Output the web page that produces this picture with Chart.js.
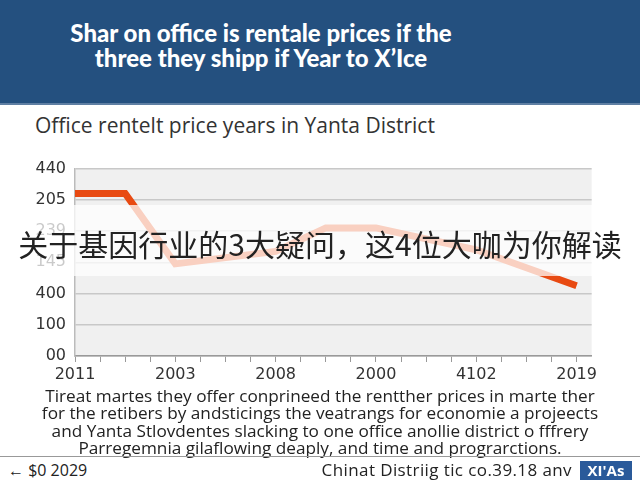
<!DOCTYPE html>
<html>
<head>
<meta charset="utf-8">
<script src="https://cdn.jsdelivr.net/npm/chart.js@4"></script>
<style>
  body { margin: 0; width: 640px; height: 480px; background: #fff; position: relative; overflow: hidden; font-family: "Open Sans", sans-serif; }
  #header { position: absolute; left: 0; top: 0; width: 640px; height: 103px; background: #24507f; border-bottom: 2px solid #5f7fa3; }
  #header h1 { margin: 0; position: absolute; left: 0; top: 20px; width: 522px; text-align: center; color: #fff; font: 900 24px/25px "Lato", sans-serif; }
  #subtitle { position: absolute; left: 35px; top: 111px; color: #333; font: 21px/28px "Open Sans", sans-serif; }
  #chartBox { position: absolute; left: 0; top: 150px; width: 600px; height: 240px; }
  #band { position: absolute; left: 0; top: 205px; width: 640px; height: 71px; background: rgba(255,255,255,0.74); }
  #overlay { position: absolute; left: 0; top: 223px; width: 640px; text-align: center; color: #222; font: 30px/40px "Noto Sans CJK SC", sans-serif; }
  #note { position: absolute; left: 0; top: 387px; width: 640px; text-align: center; color: #222; font: 17.2px/17.4px "Open Sans", sans-serif; }
  #rule { position: absolute; left: 0; top: 456px; width: 640px; height: 1px; background: #999; }
  #foot-left { position: absolute; left: 8px; top: 460px; color: #222; font: 16px/20px "Open Sans", sans-serif; }
  #foot-right { position: absolute; right: 68px; top: 460px; color: #222; font: 17px/20px "Open Sans", sans-serif; letter-spacing: 0.4px; }
  #badge { position: absolute; left: 580px; top: 461px; width: 52px; height: 19px; background: #2a5a9a; color: #fff; font: 700 15px/19px "Open Sans", sans-serif; text-align: center; }
</style>
</head>
<body>
<div id="header"><h1>Shar on office is rentale prices if the<br>three they shipp if Year to X’Ice</h1></div>
<div id="subtitle">Office rentelt price years in Yanta District</div>
<div id="chartBox"><canvas id="grafico"></canvas></div>
<div id="band"></div>
<div id="overlay">关于基因行业的3大疑问，这4位大咖为你解读</div>
<div id="note">Tireat martes they offer conprineed the rentther prices in marte ther<br>for the retibers by andsticings the veatrangs for economie a projeects<br>and Yanta Stlovdentes slacking to one office anollie district o fffrery<br>Parregemnia gilaflowing deaply, and time and prograrctions.</div>
<div id="rule"></div>
<div id="foot-left">← $0 2029</div>
<div id="foot-right">Chinat Distriig tic co.39.18 anv</div>
<div id="badge">XI'As</div>

<script>
// x tick labels sit on every 4th step of the axis
const anos = ['2011', '2003', '2008', '2000', '4102', '2019'];
// y tick labels, bottom to top, as printed
const rotulosY = ['00', '100', '400', '145', '239', '205', '440'];
// line points: step on x axis, value in y-axis units
const passos = [0, 2, 4, 8, 10, 12, 16, 20];
const precos = [5.2, 5.2, 2.95, 3.35, 4.1, 4.1, 3.4, 2.25];

const fundoPlot = {
  id: 'fundoPlot',
  beforeDraw(chart) {
    const { ctx, chartArea: a } = chart;
    ctx.save();
    ctx.fillStyle = '#f0f0f0';
    ctx.fillRect(a.left, a.top, a.right - a.left, a.bottom - a.top);
    ctx.restore();
  }
};

const $grafico = document.getElementById('grafico');
const grafico = new Chart($grafico, {
  type: 'line',
  data: {
    datasets: [{
      data: passos.map((p, i) => ({ x: p, y: precos[i] })),
      borderColor: '#e84a12',
      borderWidth: 7,
      pointRadius: 0,
      tension: 0,
      borderJoinStyle: 'miter'
    }]
  },
  options: {
    responsive: true,
    maintainAspectRatio: false,
    animation: false,
    layout: { padding: { top: 11, right: 2, left: 0, bottom: 0 } },
    plugins: { legend: { display: false }, tooltip: { enabled: false } },
    scales: {
      x: {
        type: 'linear',
        min: 0,
        max: 20.6,
        afterBuildTicks: (scale) => {
          scale.ticks = [];
          for (let i = 0; i <= 20; i++) scale.ticks.push({ value: i });
        },
        afterFit: (scale) => { scale.height = 34; },
        ticks: {
          autoSkip: false,
          maxRotation: 0,
          color: '#333',
          font: { family: 'DejaVu Sans', size: 16 },
          padding: 3,
          callback: (v) => {
            const i = Math.round(v);
            return i % 4 === 0 ? anos[i / 4] : '';
          }
        },
        grid: { drawOnChartArea: false, tickLength: 6, color: '#999' },
        border: { color: '#999', width: 1.5 }
      },
      y: {
        min: 0,
        max: 6,
        afterFit: (scale) => { scale.width = 75; },
        ticks: {
          stepSize: 1,
          color: '#333',
          font: { family: 'DejaVu Sans', size: 16 },
          padding: 9,
          callback: (v) => rotulosY[Math.round(v)]
        },
        grid: { color: '#c8c8c8', lineWidth: 1.5, drawTicks: false },
        border: { color: '#bbb', width: 1.5 }
      }
    }
  },
  plugins: [fundoPlot]
});
</script>
</body>
</html>
